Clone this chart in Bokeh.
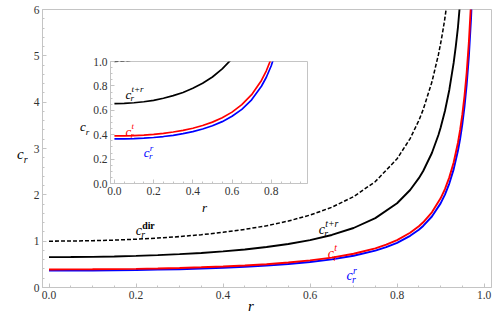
from bokeh.plotting import figure
from bokeh.models import Label, SingleIntervalTicker, PrintfTickFormatter, Range1d, Div
from bokeh.embed import file_html
from bokeh.resources import INLINE

# ---- data ----
r_dir = [0, 0.05, 0.1, 0.15, 0.2, 0.25, 0.3, 0.35, 0.4, 0.45, 0.5, 0.55, 0.6, 0.65, 0.7, 0.75, 0.8,
         0.83, 0.85, 0.86, 0.88, 0.895, 0.9, 0.905, 0.91, 0.92]
c_dir = [1.000, 1.0025, 1.010, 1.023, 1.042, 1.067, 1.099, 1.140, 1.190, 1.254, 1.333, 1.434, 1.563,
         1.732, 1.961, 2.286, 2.778, 3.214, 3.604, 3.840, 4.433, 5.026, 5.263, 5.526, 5.817, 6.510]

r_tr = [0, 0.05, 0.1, 0.15, 0.2, 0.25, 0.3, 0.35, 0.4, 0.45, 0.5, 0.55, 0.6, 0.65, 0.7, 0.75, 0.8,
        0.83, 0.85, 0.86, 0.88, 0.895, 0.9, 0.91, 0.92, 0.93, 0.935, 0.94, 0.95]
c_tr = [0.655, 0.657, 0.662, 0.670, 0.682, 0.699, 0.720, 0.746, 0.780, 0.821, 0.873, 0.939, 1.023,
        1.134, 1.284, 1.497, 1.819, 2.105, 2.360, 2.515, 2.903, 3.292, 3.447, 3.810, 4.264, 4.848,
        5.208, 5.627, 6.718]

r_t = [0, 0.05, 0.1, 0.15, 0.2, 0.25, 0.3, 0.35, 0.4, 0.45, 0.5, 0.55, 0.6, 0.65, 0.7, 0.75, 0.775,
       0.8, 0.83, 0.85, 0.86, 0.88, 0.9, 0.91, 0.92, 0.93, 0.94, 0.945, 0.95, 0.955, 0.96, 0.965, 0.97]
c_t = [0.390, 0.391, 0.393, 0.397, 0.403, 0.411, 0.422, 0.436, 0.453, 0.475, 0.503, 0.539, 0.585,
       0.646, 0.728, 0.845, 0.924, 1.024, 1.181, 1.323, 1.408, 1.623, 1.924, 2.125, 2.377, 2.699,
       3.130, 3.406, 3.736, 4.138, 4.641, 5.289, 6.152]

r_r = [0, 0.05, 0.1, 0.15, 0.2, 0.25, 0.3, 0.35, 0.4, 0.45, 0.5, 0.55, 0.6, 0.65, 0.7, 0.75, 0.775,
       0.8, 0.83, 0.85, 0.86, 0.88, 0.9, 0.91, 0.92, 0.93, 0.94, 0.945, 0.95, 0.955, 0.96, 0.965,
       0.97, 0.975]
c_r = [0.365, 0.366, 0.368, 0.372, 0.377, 0.385, 0.395, 0.409, 0.425, 0.447, 0.473, 0.507, 0.551,
       0.608, 0.686, 0.797, 0.871, 0.965, 1.115, 1.248, 1.329, 1.532, 1.816, 2.006, 2.243, 2.549,
       2.955, 3.216, 3.527, 3.908, 4.383, 4.994, 5.810, 6.952]

SERIF = "Liberation Serif"
GRAY = "#c4c4c4"
TICKTXT = "#333333"
RED = "#ff0000"
BLUE = "#0000ff"


def style(fig, xint, xminor, yint, yminor, xfmt, yfmt):
    fig.grid.visible = False
    fig.outline_line_color = GRAY
    fig.outline_line_width = 1
    fig.xaxis.ticker = SingleIntervalTicker(interval=xint, num_minor_ticks=xminor)
    fig.yaxis.ticker = SingleIntervalTicker(interval=yint, num_minor_ticks=yminor)
    fig.xaxis.formatter = PrintfTickFormatter(format=xfmt)
    fig.yaxis.formatter = PrintfTickFormatter(format=yfmt)
    for ax in list(fig.xaxis) + list(fig.yaxis):
        ax.axis_line_color = GRAY
        ax.major_tick_line_color = GRAY
        ax.minor_tick_line_color = GRAY
        ax.major_tick_in = 4
        ax.major_tick_out = 0
        ax.minor_tick_in = 2
        ax.minor_tick_out = 0
        ax.major_label_text_font = SERIF
        ax.major_label_text_font_size = "11.5px"
        ax.major_label_text_color = TICKTXT
        ax.major_label_standoff = 3


def clabel(fig, x, y, sup, color, size, sup_bold=False):
    fig.add_layout(Label(x=x, y=y, text="c", text_font=SERIF, text_font_style="italic",
                         text_font_size=f"{size}px", text_color=color, text_baseline="alphabetic"))
    fig.add_layout(Label(x=x, y=y, x_offset=0.40 * size, y_offset=-0.28 * size, text="r",
                         text_font=SERIF, text_font_style="italic",
                         text_font_size=f"{0.7 * size:.1f}px", text_color=color,
                         text_baseline="alphabetic"))
    if sup:
        fig.add_layout(Label(x=x, y=y, x_offset=0.46 * size, y_offset=0.40 * size, text=sup,
                             text_font=SERIF, text_font_style="bold" if sup_bold else "italic",
                             text_font_size=f"{0.7 * size:.1f}px", text_color=color,
                             text_baseline="alphabetic"))


def draw_curves(fig, w):
    fig.line(r_dir, c_dir, line_color="black", line_width=w * 0.8, line_dash="4 2")
    fig.line(r_tr, c_tr, line_color="black", line_width=w)
    fig.line(r_r, c_r, line_color=BLUE, line_width=w)
    fig.line(r_t, c_t, line_color=RED, line_width=w)


def axis_title(html, left, top, size):
    return Div(text=html, styles={"position": "absolute", "left": f"{left}px", "top": f"{top}px",
                                  "font-family": "Liberation Serif", "font-size": f"{size}px",
                                  "line-height": "1", "color": "black", "white-space": "nowrap"})


# ---- main chart ----
p = figure(width=492, height=316, x_range=Range1d(-0.015, 1.017), y_range=Range1d(0, 6),
           output_backend="svg", toolbar_location=None,
           min_border_left=42, min_border_right=1, min_border_top=9, min_border_bottom=29)
style(p, 0.2, 4, 1, 5, "%.1f", "%d")
draw_curves(p, 1.9)

clabel(p, 0.1993, 1.224, "dir", "black", 14, sup_bold=True)
clabel(p, 0.6200, 1.2605, "t+r", "black", 14)
clabel(p, 0.6407, 0.7425, "t", RED, 14)
clabel(p, 0.6837, 0.2525, "r", BLUE, 14)

# ---- inset ----
q = figure(width=250, height=158, x_range=Range1d(-0.02, 0.985), y_range=Range1d(0, 1),
           output_backend="svg", toolbar_location=None,
           min_border_left=50, min_border_right=3, min_border_top=6, min_border_bottom=30,
           styles={"position": "absolute", "left": "60px", "top": "55px"})
q.background_fill_alpha = 0
q.border_fill_alpha = 0
style(q, 0.2, 4, 0.2, 4, "%.1f", "%.1f")
draw_curves(q, 1.7)

clabel(q, 0.0561, 0.7328, "t+r", "black", 13)
clabel(q, 0.0561, 0.4262, "t", RED, 13)
clabel(q, 0.1495, 0.2516, "r", BLUE, 13)

# ---- axis titles (outside the frames) ----
t_main_y = axis_title("<i>c</i><sub style='font-size:10px'><i>r</i></sub>", 12, 142, 15)
t_main_x = axis_title("<i>r</i>", 243, 294, 15)
t_in_y = axis_title("<i>c</i><sub style='font-size:9px'><i>r</i></sub>", 75, 115, 13)
t_in_x = axis_title("<i>r</i>", 197, 196, 13)

open("out.html", "w").write(file_html([p, q, t_main_y, t_main_x, t_in_y, t_in_x], INLINE))
